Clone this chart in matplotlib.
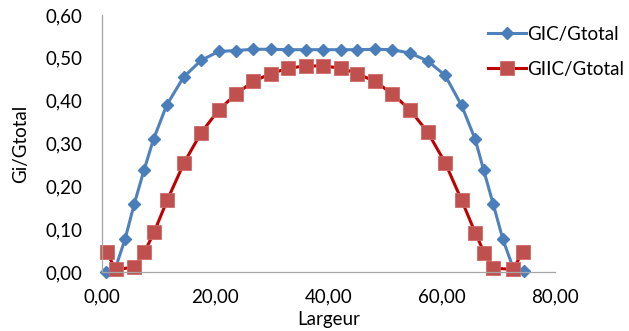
import matplotlib
matplotlib.use("Agg")
import matplotlib.pyplot as plt
from matplotlib.ticker import FuncFormatter

# Données
largeur_gic = [0.7, 2.4, 4.1, 5.7, 7.4, 9.1, 11.4, 14.4, 17.5, 20.6, 23.7, 26.7, 29.8, 32.9, 36.0,
               39.1, 42.2, 45.1, 48.2, 51.3, 54.4, 57.5, 60.6, 63.5, 65.9, 67.4, 69.1, 70.8, 72.6, 74.5]
gic_gtotal = [0.000, 0.010, 0.078, 0.159, 0.237, 0.310, 0.389, 0.455, 0.494, 0.515, 0.517, 0.520,
              0.520, 0.519, 0.519, 0.519, 0.519, 0.519, 0.520, 0.519, 0.511, 0.493, 0.459, 0.389,
              0.310, 0.238, 0.158, 0.076, 0.010, 0.003]

largeur_giic = [0.8, 2.4, 5.7, 7.5, 9.2, 11.5, 14.5, 17.5, 20.6, 23.7, 26.7, 29.8, 32.9, 36.0,
                39.1, 42.2, 45.1, 48.2, 51.3, 54.4, 57.5, 60.6, 63.5, 65.9, 67.5, 69.1, 72.6, 74.3]
giic_gtotal = [0.047, 0.006, 0.011, 0.046, 0.093, 0.167, 0.255, 0.325, 0.378, 0.416, 0.445, 0.463,
               0.476, 0.481, 0.481, 0.476, 0.463, 0.445, 0.416, 0.378, 0.327, 0.255, 0.168, 0.092,
               0.045, 0.009, 0.006, 0.047]

x_ticks = [0, 20, 40, 60, 80]
y_ticks = [0.0, 0.1, 0.2, 0.3, 0.4, 0.5, 0.6]

plt.rcParams['font.family'] = ['Lato', 'DejaVu Sans']
taille = 13.5

fig = plt.figure(figsize=(6.29, 3.31), dpi=100)
ax = fig.add_axes([102 / 629, 1 - 272 / 331, 453 / 629, 257 / 331])

# Courbes
ax.plot(largeur_gic, gic_gtotal, color='#4F81BD', linewidth=2.2, marker='D', markersize=6,
        markerfacecolor='#4A7EBB', markeredgecolor='#4A7EBB', label='GIC/Gtotal', clip_on=False)
ax.plot(largeur_giic, giic_gtotal, color='#C00000', linewidth=2.2, marker='s', markersize=9.5,
        markerfacecolor='#C0504D', markeredgecolor='#D06A67', markeredgewidth=0.6,
        label='GIIC/Gtotal', clip_on=False)

ax.set_xlim(0, 80)
ax.set_ylim(0, 0.6)
ax.set_xticks(x_ticks)
ax.set_yticks(y_ticks)

# Format à la française (virgule décimale)
ax.xaxis.set_major_formatter(FuncFormatter(lambda v, p: f"{v:.2f}".replace('.', ',')))
ax.yaxis.set_major_formatter(FuncFormatter(lambda v, p: f"{v:.2f}".replace('.', ',')))

ax.tick_params(axis='both', length=0, labelsize=taille, colors='#000000')
ax.tick_params(axis='y', pad=14)
ax.tick_params(axis='x', pad=12)

for side in ['top', 'right']:
    ax.spines[side].set_visible(False)
for side in ['left', 'bottom']:
    ax.spines[side].set_color('#A6A6A6')
    ax.spines[side].set_linewidth(0.9)

ax.set_xlabel('Largeur', fontsize=taille)
ax.set_ylabel('Gi/Gtotal', fontsize=taille)
ax.xaxis.set_label_coords(0.5, -0.15)
ax.yaxis.set_label_coords(-0.16, 0.5)

# Légende à droite, sans cadre
fig.legend(loc='upper left', bbox_to_anchor=(488 / 629, 1 - 26 / 331), frameon=False,
           fontsize=taille, handlelength=2.0, handletextpad=0.1, labelspacing=0.95,
           borderpad=0, borderaxespad=0)

fig.savefig('out.png', dpi=100)
